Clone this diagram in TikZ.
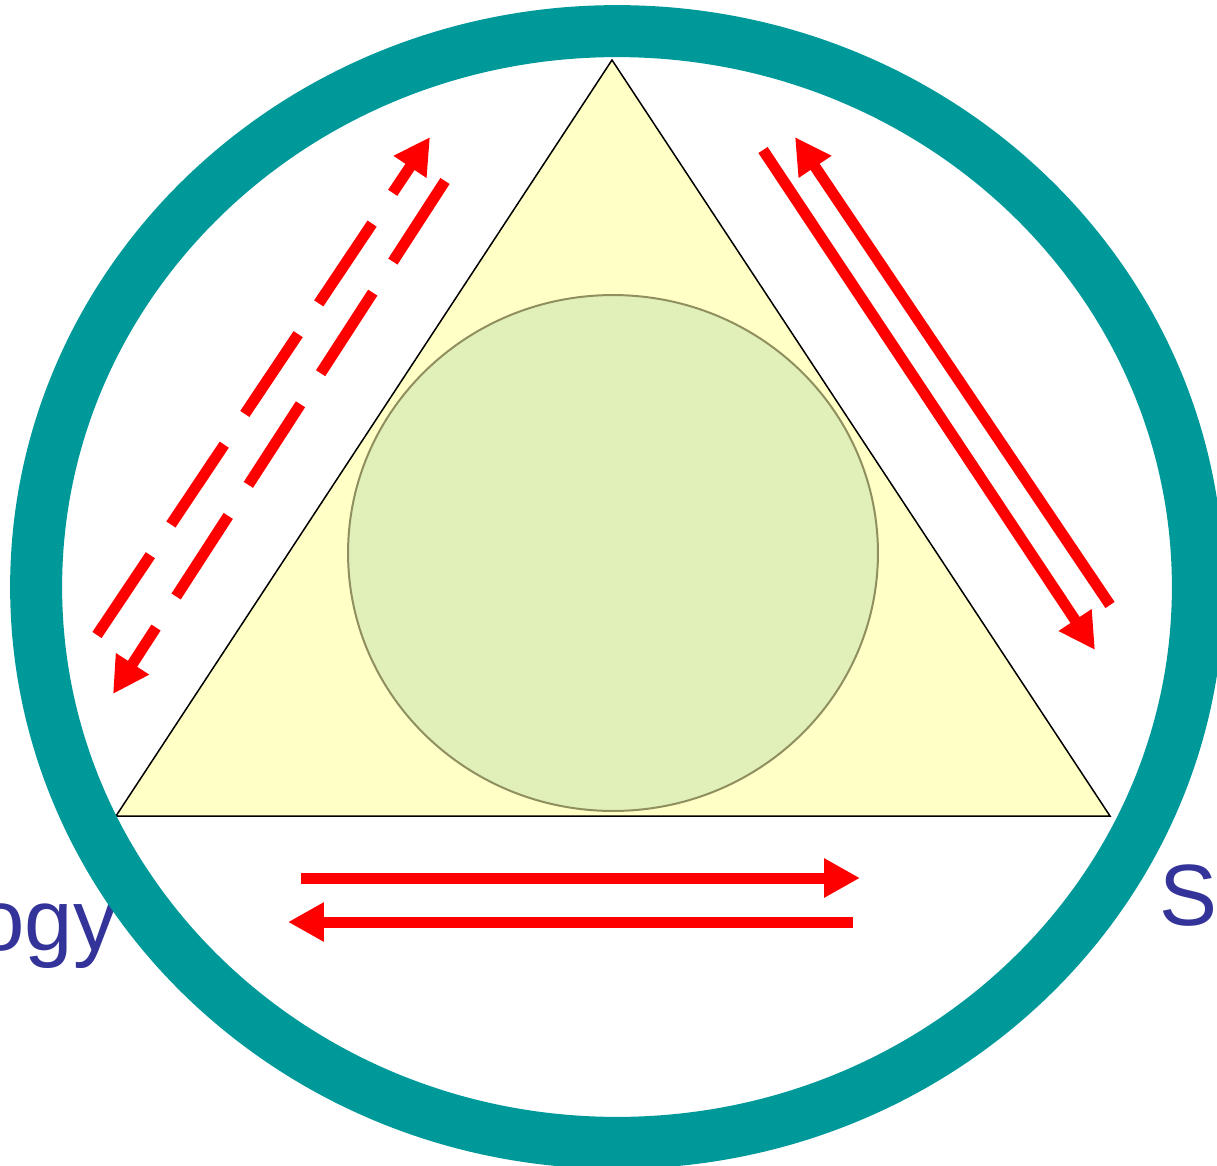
\documentclass[tikz,border=0pt]{standalone}
\usepackage{fontspec}
\setmainfont{Liberation Sans}
\usetikzlibrary{arrows.meta}
\usepackage{xcolor}
\definecolor{ringTeal}{HTML}{009999}
\definecolor{arrowRed}{HTML}{FF0000}
\definecolor{triYellow}{HTML}{FFFFC6}
\definecolor{coreGreen}{HTML}{E1F0B9}
\definecolor{coreEdge}{HTML}{8F8F5F}
\definecolor{tagBlue}{HTML}{333399}

\begin{document}
\begin{tikzpicture}[
    x=0.02cm, y=-0.02cm,
    >={Triangle[length=0.72cm, width=0.74cm]},
    flow/.style={->, draw=arrowRed, line width=0.22cm},
    dashflow/.style={flow, dash pattern=on 1.92cm off 0.74cm},
    tagText/.style={text=tagBlue, inner sep=0pt, font=\fontsize{49.5}{59}\selectfont}
]
    \useasboundingbox (0,0) rectangle (1217,1166);

    % triangle and inner core
    \coordinate (apex) at (612,60);
    \coordinate (baseL) at (116,816);
    \coordinate (baseR) at (1110,816);
    \draw[fill=triYellow, line width=0.03cm, line join=miter] (apex) -- (baseR) -- (baseL) -- cycle;
    \coordinate (core) at (613,553);
    \draw[fill=coreGreen, draw=coreEdge, line width=0.04cm] (core) ellipse [x radius=5.3cm, y radius=5.16cm];

    % left side, dashed
    \coordinate (lUpS) at (97,635);   \coordinate (lUpE) at (430,137);
    \coordinate (lDnS) at (445,181);  \coordinate (lDnE) at (113,694);
    \draw[dashflow] (lUpS) -- (lUpE);
    \draw[dashflow] (lDnS) -- (lDnE);

    % right side
    \coordinate (rUpS) at (1110,605); \coordinate (rUpE) at (795,137);
    \coordinate (rDnS) at (763,150);  \coordinate (rDnE) at (1095,650);
    \draw[flow] (rUpS) -- (rUpE);
    \draw[flow] (rDnS) -- (rDnE);

    % bottom
    \coordinate (bRtS) at (301,878);  \coordinate (bRtE) at (860,878);
    \coordinate (bLtS) at (853,922);  \coordinate (bLtE) at (288,922);
    \draw[flow] (bRtS) -- (bRtE);
    \draw[flow] (bLtS) -- (bLtE);

    % labels
    \node[tagText, anchor=base east] (leftTag) at (117,950) {ogy};
    \node[tagText, anchor=base west] (rightTag) at (1159,925) {S};

    % outer ring
    \coordinate (ringC) at (617,587);
    \draw[ringTeal, line width=1.04cm] (ringC) ellipse [x radius=11.62cm, y radius=11.12cm];
\end{tikzpicture}
\end{document}
